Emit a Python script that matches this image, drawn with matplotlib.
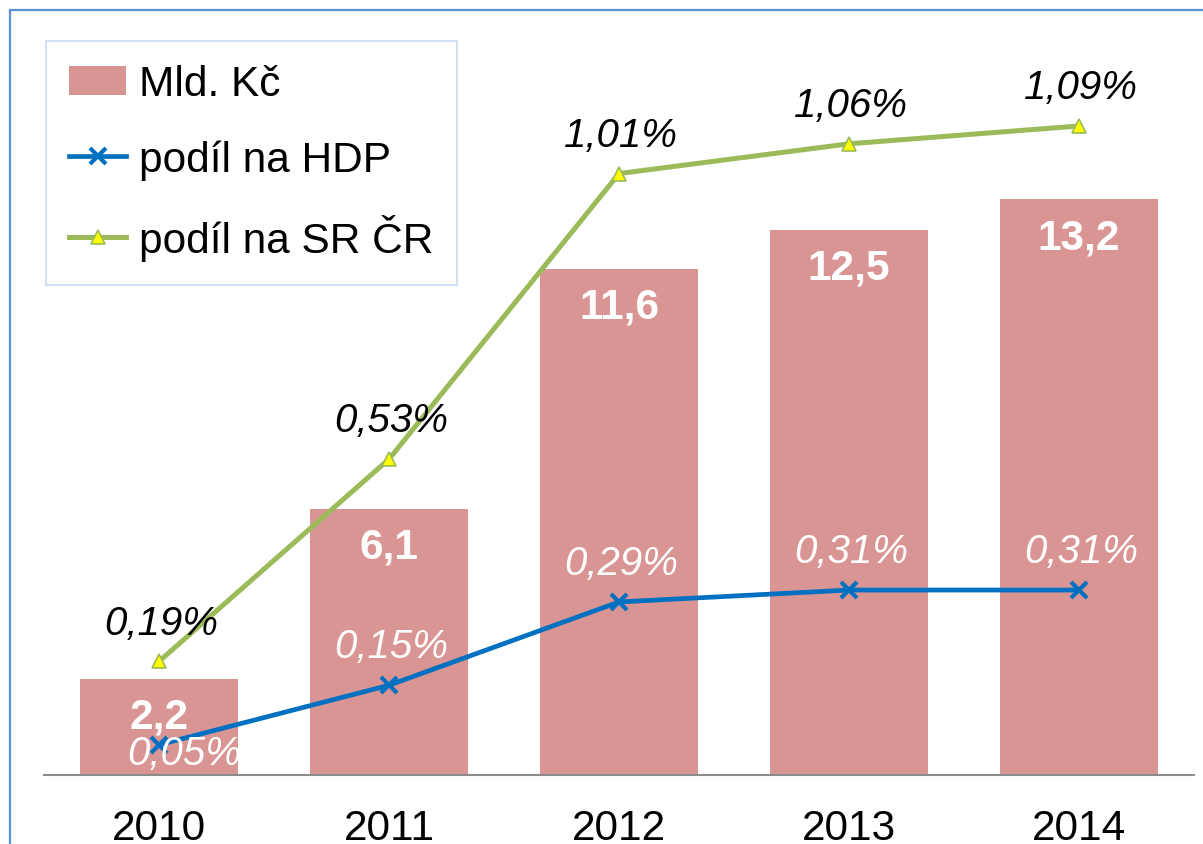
import numpy as np
import matplotlib
matplotlib.use('Agg')
import matplotlib.pyplot as plt
from matplotlib.patches import Rectangle

years = ['2010', '2011', '2012', '2013', '2014']
mld_kc = [2.2, 6.1, 11.6, 12.5, 13.2]
podil_hdp = [0.05, 0.15, 0.29, 0.31, 0.31]
podil_sr = [0.19, 0.53, 1.01, 1.06, 1.09]

plt.rcParams['font.family'] = ['Liberation Sans', 'DejaVu Sans']

W, H = 1203, 845
fig = plt.figure(figsize=(W / 100, H / 100), dpi=100)

# outer chart border (cut off at right and bottom like the screenshot)
fig.patches.append(Rectangle((10 / W, -0.1), 1.2, (H - 11) / H + 0.1,
                             transform=fig.transFigure, fill=False,
                             edgecolor='#5B8FD6', linewidth=1.6, clip_on=False))

base_px = 775.5
top_px = 5
ax = fig.add_axes([44 / W, (H - base_px) / H, 1150 / W, (base_px - top_px) / H])
ax2 = ax.twinx()

x = np.arange(len(years))
bars = ax.bar(x, mld_kc, width=0.69, color='#D99594', label='Mld. Kč', zorder=2)
ax.set_xlim(-0.5, len(years) - 0.5)
ax.set_ylim(0, (base_px - top_px) / 43.6)
ax2.set_ylim(0, (base_px - top_px) / 595)

l1, = ax2.plot(x, podil_hdp, color='#0070C0', lw=3.4, marker='x', ms=11, mew=3,
               label='podíl na HDP', zorder=3)
l2, = ax2.plot(x, podil_sr, color='#9BBB59', lw=3.6, marker='^', ms=10.5,
               mfc='#FFFF00', mec='#9BBB59', mew=1.2, label='podíl na SR ČR', zorder=3)

for a in (ax, ax2):
    for s in ('left', 'right', 'top'):
        a.spines[s].set_visible(False)
    a.set_yticks([])
ax2.spines['bottom'].set_visible(False)
ax.spines['bottom'].set_color('#8C8C8C')
ax.spines['bottom'].set_linewidth(1.5)
ax.set_xticks(x)
ax.set_xticklabels(years, fontsize=30.5)
ax.tick_params(axis='x', length=0, pad=24)

fmt = lambda v: f'{v:.2f}%'.replace('.', ',')

for xi, v in zip(x, mld_kc):
    ax.annotate(f'{v:.1f}'.replace('.', ','), (xi, v), xytext=(0, -27.5),
                textcoords='offset points', ha='center', va='center',
                color='white', fontsize=30.5, fontweight='bold', zorder=4)

for xi, v in zip(x, podil_sr):
    ax2.annotate(fmt(v), (xi, v), xytext=(1.5, 28), textcoords='offset points',
                 ha='center', va='center', color='black', fontsize=29,
                 fontstyle='italic', zorder=4)

hdp_off = [(18, -6), (1.5, 28), (1.5, 28), (1.5, 28), (1.5, 28)]
for xi, v, off in zip(x, podil_hdp, hdp_off):
    ax2.annotate(fmt(v), (xi, v), xytext=off, textcoords='offset points',
                 ha='center', va='center', color='white', fontsize=29,
                 fontstyle='italic', zorder=4)

leg = ax2.legend(handles=[bars, l1, l2], loc='upper left',
                 bbox_to_anchor=(46 / W, 1 - 42 / H), bbox_transform=fig.transFigure,
                 fontsize=30.5, frameon=True, fancybox=False, borderaxespad=0,
                 handlelength=1.35, handletextpad=0.3, labelspacing=0.82,
                 borderpad=0.55)
leg.get_frame().set_edgecolor('#C6D9F1')
leg.get_frame().set_linewidth(1.5)

fig.savefig('out.png', dpi=100)
